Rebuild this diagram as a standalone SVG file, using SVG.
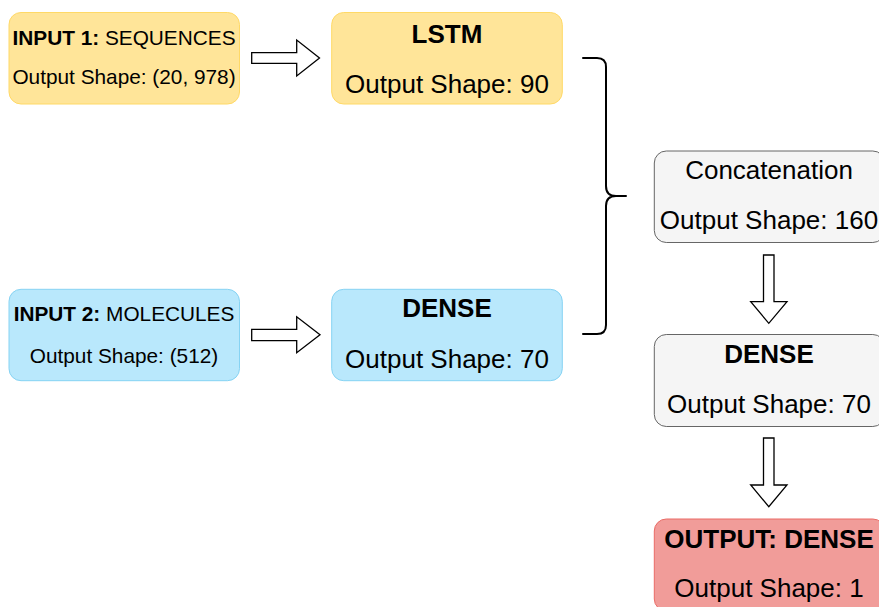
<svg xmlns="http://www.w3.org/2000/svg" width="879" height="607" viewBox="0 0 879 607">
  <style>
    text { font-family: "Liberation Sans", Arial, sans-serif; fill: #000; text-anchor: middle; }
    .sm { font-size: 20.8px; }
    .lg { font-size: 26px; }
    .b { font-weight: bold; }
    .box { stroke-width: 1; }
    .yellow { fill: #ffe599; stroke: #ffd966; }
    .blue { fill: #b9e8fc; stroke: #86d3f3; }
    .gray { fill: #f5f5f5; stroke: #666666; }
    .red { fill: #f19c99; stroke: #ea6b66; }
    .arrow { fill: #fff; stroke: #000; stroke-width: 1.3; stroke-linejoin: miter; }
    .brace { fill: none; stroke: #000; stroke-width: 2; stroke-linejoin: round; stroke-linecap: round; }
  </style>

  <g id="input1">
    <rect class="box yellow" x="9" y="12.5" width="230.5" height="91.5" rx="12"/>
    <text class="sm" x="124" y="45"><tspan class="b">INPUT 1:</tspan> SEQUENCES</text>
    <text class="sm" x="124" y="83.5">Output Shape: (20, 978)</text>
  </g>

  <g id="lstm">
    <rect class="box yellow" x="331.7" y="12.5" width="230.6" height="91.5" rx="12"/>
    <text class="lg b" x="447" y="42.5">LSTM</text>
    <text class="lg" x="447" y="92.5">Output Shape: 90</text>
  </g>

  <g id="input2">
    <rect class="box blue" x="9" y="289.3" width="230.5" height="91.4" rx="12"/>
    <text class="sm" x="124" y="321"><tspan class="b">INPUT 2:</tspan> MOLECULES</text>
    <text class="sm" x="124" y="362.5">Output Shape: (512)</text>
  </g>

  <g id="dense1">
    <rect class="box blue" x="331.7" y="289.3" width="230.6" height="91.4" rx="12"/>
    <text class="lg b" x="447" y="317">DENSE</text>
    <text class="lg" x="447" y="368">Output Shape: 70</text>
  </g>

  <g id="concat">
    <rect class="box gray" x="654.3" y="151" width="230.5" height="91.5" rx="12"/>
    <text class="lg" x="769" y="179">Concatenation</text>
    <text class="lg" x="769" y="229">Output Shape: 160</text>
  </g>

  <g id="dense2">
    <rect class="box gray" x="654.3" y="334.5" width="230.5" height="92" rx="12"/>
    <text class="lg b" x="769" y="363">DENSE</text>
    <text class="lg" x="769" y="413">Output Shape: 70</text>
  </g>

  <g id="output">
    <rect class="box red" x="654.3" y="519" width="230.5" height="92" rx="12"/>
    <text class="lg b" x="769" y="548">OUTPUT: DENSE</text>
    <text class="lg" x="769" y="597">Output Shape: 1</text>
  </g>

  <g id="connectors">
    <!-- block arrows: inputs to first layers -->
    <polygon class="arrow" points="251.7,52.7 296.7,52.7 296.7,40 319.5,58 296.7,76 296.7,63.3 251.7,63.3"/>
    <polygon class="arrow" points="251.7,329.3 296.7,329.3 296.7,316.7 320,334.7 296.7,352.7 296.7,340.7 251.7,340.7"/>
    <!-- curly brace merging both branches -->
    <path class="brace" d="M583,58 H597 Q606,58 606,67 V186 Q606,196 616,196 H626 M616,196 Q606,196 606,206 V325 Q606,334 597,334 H583"/>
    <!-- block arrows down the stack -->
    <polygon class="arrow" points="763.5,255 774,255 774,301.7 787,301.7 768.8,323.3 750.7,301.7 763.5,301.7"/>
    <polygon class="arrow" points="763.5,438 774,438 774,485 787,485 768.8,506.7 750.7,485 763.5,485"/>
  </g>
</svg>
